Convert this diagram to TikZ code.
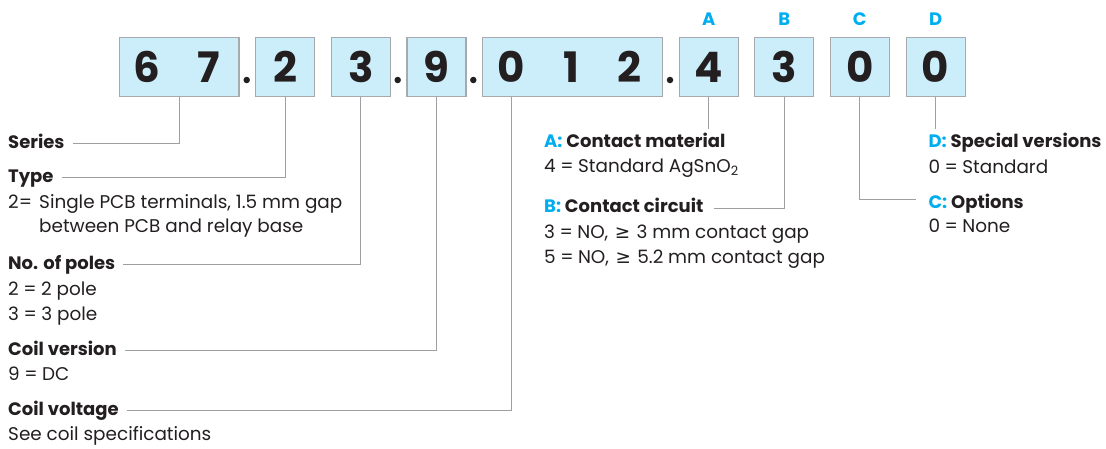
\documentclass[tikz,border=0pt]{standalone}
\usepackage{fontspec}
\setmainfont{Poppins}
\newfontfamily\symfont{DejaVu Sans}
\usetikzlibrary{calc}
\definecolor{boxfill}{HTML}{CCEEFA}
\definecolor{boxline}{HTML}{A7A9AC}
\definecolor{cyanA}{HTML}{00AEEF}
\definecolor{ink}{HTML}{231F20}
\definecolor{leadc}{HTML}{9D9FA2}
\newcommand{\eqs}{\hspace{4.5pt}=\hspace{4.5pt}}
\newcommand{\geqs}{\hspace{1.5pt}{\symfont ≥}\hspace{1.5pt}}
\begin{document}
\begin{tikzpicture}[x=1pt,y=-1pt,
  box/.style={draw=boxline, fill=boxfill, line width=1.2pt, minimum height=59pt, inner sep=0},
  digit/.style={font=\fontsize{42}{42}\selectfont\bfseries, text=ink, inner sep=0, anchor=base},
  letter/.style={font=\fontsize{18}{18}\selectfont\bfseries, text=cyanA, inner sep=0, anchor=base},
  head/.style={font=\fontsize{18}{18}\selectfont\bfseries, text=ink, inner sep=0, anchor=base west},
  body/.style={font=\fontsize{18.4}{18.4}\selectfont, text=ink, inner sep=0, anchor=base west},
  leader/.style={draw=leadc, line width=1pt},
  dotmark/.style={circle, fill=ink, inner sep=0, minimum size=6.5pt}]
\useasboundingbox (0,0) rectangle (1106,448);
% boxes
\node[box, minimum width=119.7pt] (b67)  at (179.2,67.2) {};
\node[box, minimum width=59pt]    (b2)   at (285.2,67.2) {};
\node[box, minimum width=59pt]    (b3)   at (360.8,67.2) {};
\node[box, minimum width=59pt]    (b9)   at (436.5,67.2) {};
\node[box, minimum width=180pt]   (b012) at (572.7,67.2) {};
\node[box, minimum width=59pt]    (bA)   at (708.8,67.2) {};
\node[box, minimum width=59pt]    (bB)   at (784.3,67.2) {};
\node[box, minimum width=59pt]    (bC)   at (859.8,67.2) {};
\node[box, minimum width=59pt]    (bD)   at (935.6,67.2) {};
% digits
\node[digit] (d6)  at (147,82) {6};
\node[digit] (d7)  at (209,82) {7};
\node[digit] (d2)  at (285.2,82) {2};
\node[digit] (d3)  at (360.8,82) {3};
\node[digit] (d9)  at (436.5,82) {9};
\node[digit] (d0a) at (511,82) {0};
\node[digit] (d1)  at (571,82) {1};
\node[digit] (d2b) at (629,82) {2};
\node[digit] (d4)  at (708.8,82) {4};
\node[digit] (d3b) at (784.3,82) {3};
\node[digit] (d0c) at (859.8,82) {0};
\node[digit] (d0d) at (935.6,82) {0};
% dots
\node[dotmark] (p1) at (246.7,80) {};
\node[dotmark] (p2) at (397.7,80) {};
\node[dotmark] (p3) at (473.3,80) {};
\node[dotmark] (p4) at (670,80) {};
% letters
\node[letter] (lA) at (708.8,25.7) {A};
\node[letter] (lB) at (784.3,25.7) {B};
\node[letter] (lC) at (859.8,25.7) {C};
\node[letter] (lD) at (935.6,25.7) {D};
% left labels
\node[head] (series) at (8,148) {Series};
\node[head] (type) at (8,182) {Type};
\node[body] (typeeq) at (8,208) {2=};
\node[body] (typed1) at (39,208) {Single PCB terminals, 1.5 mm gap};
\node[body] (typed2) at (39,232) {between PCB and relay base};
\node[head] (poles) at (8,269.5) {No. of poles};
\node[body] (poles1) at (8,295) {2\eqs 2 pole};
\node[body] (poles2) at (8,320) {3\eqs 3 pole};
\node[head] (cver) at (8,355) {Coil version};
\node[body] (cver1) at (8,380) {9\eqs DC};
\node[head] (cvolt) at (8,415) {Coil voltage};
\node[body] (cvolt1) at (8,440.5) {See coil specifications};
% right labels
\node[head] (ahead) at (544,147.3) {\textcolor{cyanA}{A:} Contact material};
\node[body] (a1) at (544,172.3) {4\eqs Standard AgSnO\textsubscript{2}};
\node[head] (bhead) at (544,212.7) {\textcolor{cyanA}{B:} Contact circuit};
\node[body] (b1) at (544,238.3) {3\eqs NO, \geqs{} 3 mm contact gap};
\node[body] (b2t) at (544,263.3) {5\eqs NO, \geqs{} 5.2 mm contact gap};
\node[head] (chead) at (928.3,208.3) {\textcolor{cyanA}{C:} Options};
\node[body] (c1) at (928.3,232.7) {0\eqs None};
\node[head] (dhead) at (928.3,147.3) {\textcolor{cyanA}{D:} Special versions};
\node[body] (d1t) at (928.3,173.3) {0\eqs Standard};
% connectors
\coordinate (aend) at (708.8,129);
\coordinate (dend) at (935.6,128.6);
\draw[leader] (b67.south) |- ($(series.base east)+(8,-5)$);
\draw[leader] (b2.south) |- ($(type.base east)+(8,-4.5)$);
\draw[leader] (b3.south) |- ($(poles.base east)+(8,-5)$);
\draw[leader] (b9.south) |- ($(cver.base east)+(8,-5)$);
\draw[leader] (d0a.center |- b012.south) |- ($(cvolt.base east)+(8,-4.5)$);
\draw[leader] (bA.south) -- (aend);
\draw[leader] (bB.south) |- ($(bhead.base east)+(10,-4.5)$);
\draw[leader] (bC.south) |- ($(chead.base west)+(-12,-9)$);
\draw[leader] (bD.south) -- (dend);
\end{tikzpicture}
\end{document}
